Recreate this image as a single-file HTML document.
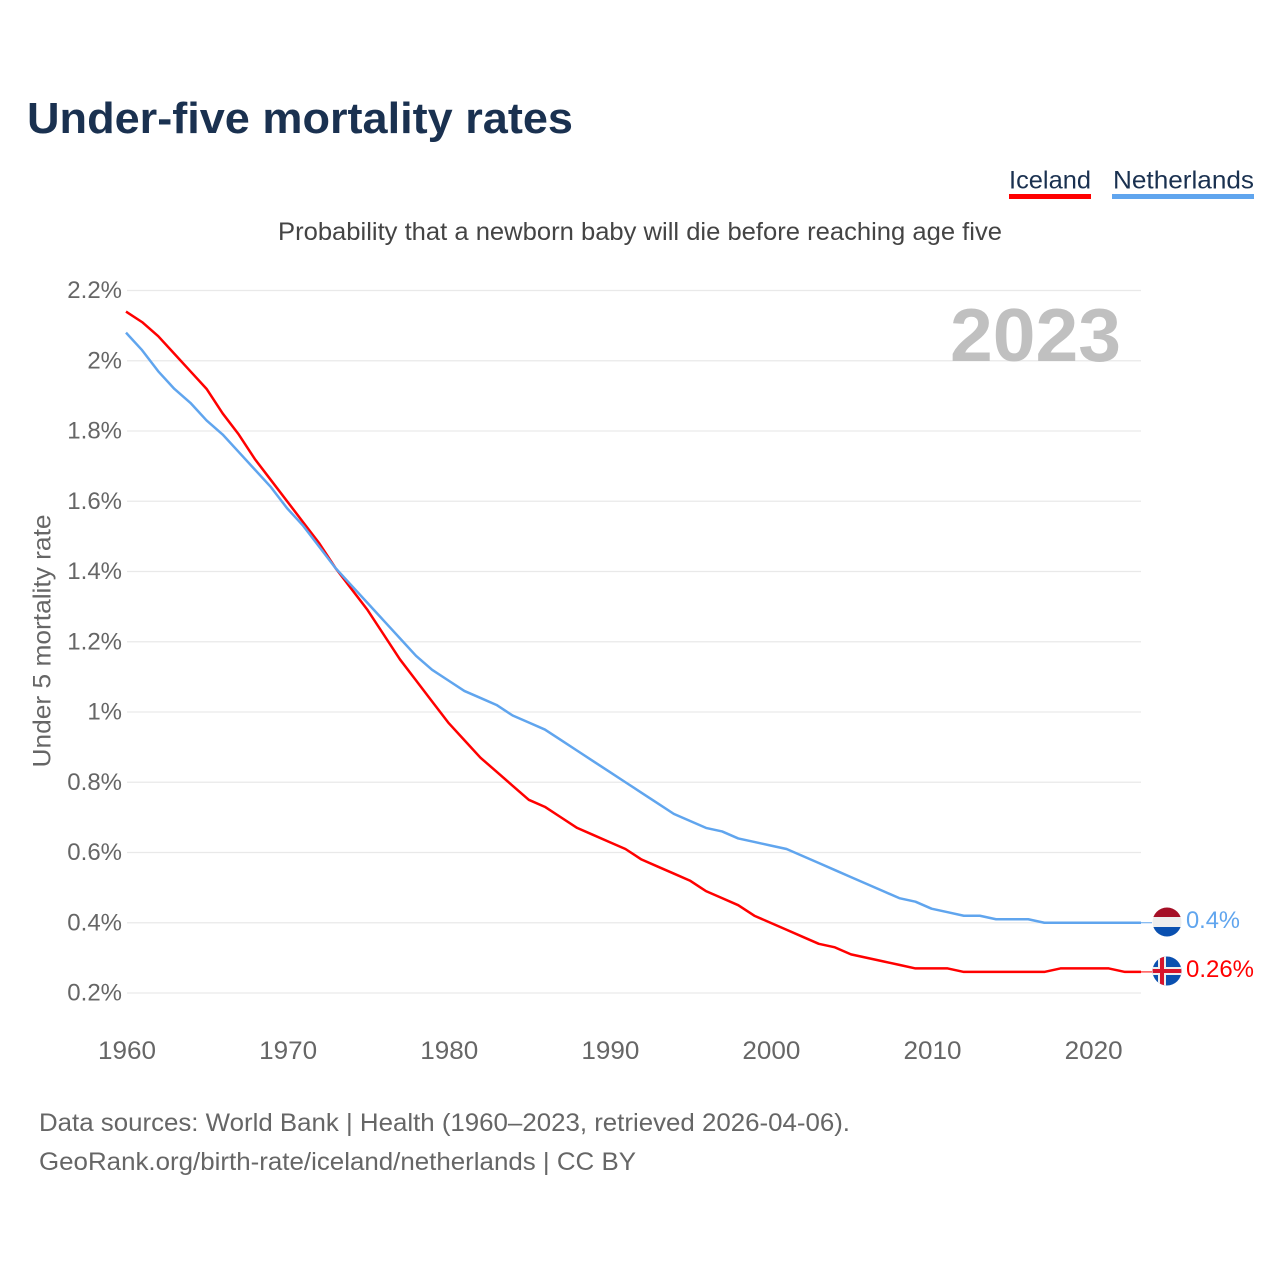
<!DOCTYPE html>
<html lang="en">
<head>
<meta charset="utf-8">
<title>Under-five mortality rates</title>
<style>
html,body{margin:0;padding:0;background:#fff;}
svg{display:block;font-family:"Liberation Sans",sans-serif;}
</style>
</head>
<body>
<svg id="chart" width="1280" height="1280" viewBox="0 0 1280 1280" xmlns="http://www.w3.org/2000/svg">
  <defs>
    <clipPath id="clip-nl"><circle cx="1167" cy="922" r="14.5"/></clipPath>
    <clipPath id="clip-is"><circle cx="1167" cy="971" r="14.5"/></clipPath>
  </defs>
  <rect width="1280" height="1280" fill="#fff"/>
  <text x="27" y="133" font-size="44" font-weight="700" fill="#1a3150" textLength="546" lengthAdjust="spacingAndGlyphs">Under-five mortality rates</text>

  <g>
    <text x="1009" y="188.5" font-size="25" fill="#1a3150" textLength="82" lengthAdjust="spacingAndGlyphs">Iceland</text>
    <rect x="1009" y="194" width="82" height="5" fill="#ff0000"/>
  </g>
  <g>
    <text x="1113" y="188.5" font-size="25" fill="#1a3150" textLength="141" lengthAdjust="spacingAndGlyphs">Netherlands</text>
    <rect x="1112" y="194" width="142" height="5" fill="#60a5ee"/>
  </g>

  <text x="278" y="240" font-size="25" fill="#444" textLength="724" lengthAdjust="spacingAndGlyphs">Probability that a newborn baby will die before reaching age five</text>

  <g id="grid"></g>
  <g id="ylabels"></g>
  <g id="xlabels"></g>

  <text transform="translate(50.5,641) rotate(-90)" text-anchor="middle" font-size="25" fill="#666" textLength="253" lengthAdjust="spacingAndGlyphs">Under 5 mortality rate</text>

  <text x="950" y="361" font-size="75" font-weight="700" fill="#c0c0c0" textLength="171" lengthAdjust="spacingAndGlyphs">2023</text>

  <g id="series"></g>

  <g clip-path="url(#clip-nl)">
    <rect x="1152" y="907" width="30" height="10" fill="#a50f26"/>
    <rect x="1152" y="917" width="30" height="10" fill="#eeeeee"/>
    <rect x="1152" y="927" width="30" height="11" fill="#0a50b0"/>
  </g>
  <g clip-path="url(#clip-is)">
    <rect x="1152" y="956" width="30" height="30" fill="#0a50b0"/>
    <rect x="1158" y="956" width="8" height="30" fill="#eeeeee"/>
    <rect x="1152" y="967" width="30" height="8" fill="#eeeeee"/>
    <rect x="1160" y="956" width="4" height="30" fill="#d7142c"/>
    <rect x="1152" y="969" width="30" height="4" fill="#d7142c"/>
  </g>
  <text x="1186" y="928" font-size="24" fill="#60a5ee" textLength="54" lengthAdjust="spacingAndGlyphs">0.4%</text>
  <text x="1186" y="977" font-size="24" fill="#ff0000" textLength="68" lengthAdjust="spacingAndGlyphs">0.26%</text>

  <text x="39" y="1131" font-size="25" fill="#666" textLength="811" lengthAdjust="spacingAndGlyphs">Data sources: World Bank | Health (1960–2023, retrieved 2026-04-06).</text>
  <text x="39" y="1170" font-size="25" fill="#666" textLength="597" lengthAdjust="spacingAndGlyphs">GeoRank.org/birth-rate/iceland/netherlands | CC BY</text>
</svg>
<script>
const startYear = 1960;
const icelandValues = [2.14,2.11,2.07,2.02,1.97,1.92,1.85,1.79,1.72,1.66,1.60,1.54,1.48,1.41,1.35,1.29,1.22,1.15,1.09,1.03,0.97,0.92,0.87,0.83,0.79,0.75,0.73,0.70,0.67,0.65,0.63,0.61,0.58,0.56,0.54,0.52,0.49,0.47,0.45,0.42,0.40,0.38,0.36,0.34,0.33,0.31,0.30,0.29,0.28,0.27,0.27,0.27,0.26,0.26,0.26,0.26,0.26,0.26,0.27,0.27,0.27,0.27,0.26,0.26];
const netherlandsValues = [2.08,2.03,1.97,1.92,1.88,1.83,1.79,1.74,1.69,1.64,1.58,1.53,1.47,1.41,1.36,1.31,1.26,1.21,1.16,1.12,1.09,1.06,1.04,1.02,0.99,0.97,0.95,0.92,0.89,0.86,0.83,0.80,0.77,0.74,0.71,0.69,0.67,0.66,0.64,0.63,0.62,0.61,0.59,0.57,0.55,0.53,0.51,0.49,0.47,0.46,0.44,0.43,0.42,0.42,0.41,0.41,0.41,0.40,0.40,0.40,0.40,0.40,0.40,0.40];
const yTicks = [2.2,2,1.8,1.6,1.4,1.2,1,0.8,0.6,0.4,0.2];
const xTicks = [1960,1970,1980,1990,2000,2010,2020];

const NS = 'http://www.w3.org/2000/svg';
function xScale(year){ return 126 + (year - 1960) * (1141 - 126) / 63; }
function yScale(v){ return 993 - (v - 0.2) * (993 - 290.5) / 2; }

const grid = document.getElementById('grid');
const ylabels = document.getElementById('ylabels');
const xlabels = document.getElementById('xlabels');
const series = document.getElementById('series');

yTicks.forEach(function(t){
  const line = document.createElementNS(NS, 'line');
  line.setAttribute('x1', 127);
  line.setAttribute('x2', 1141);
  line.setAttribute('y1', yScale(t));
  line.setAttribute('y2', yScale(t));
  line.setAttribute('stroke', '#e9e9e9');
  line.setAttribute('stroke-width', '1.2');
  
  
  grid.appendChild(line);

  const label = document.createElementNS(NS, 'text');
  label.setAttribute('x', 122);
  label.setAttribute('y', yScale(t) + 7.5);
  label.setAttribute('text-anchor', 'end');
  label.setAttribute('font-size', '24');
  label.setAttribute('fill', '#666');
  label.textContent = t + '%';
  
  
  ylabels.appendChild(label);
});

xTicks.forEach(function(t){
  const label = document.createElementNS(NS, 'text');
  label.setAttribute('x', xScale(t) + 1);
  label.setAttribute('y', 1059);
  label.setAttribute('text-anchor', 'middle');
  label.setAttribute('font-size', '25');
  label.setAttribute('fill', '#666');
  label.setAttribute('textLength', '58');
  label.setAttribute('lengthAdjust', 'spacingAndGlyphs');
  label.textContent = t;
  
  
  xlabels.appendChild(label);
});

function pathFor(values){
  return values.map(function(v, i){
    return (i ? 'L' : 'M') + xScale(startYear + i).toFixed(2) + ' ' + yScale(v).toFixed(2);
  }).join(' ');
}

const icelandLine = document.createElementNS(NS, 'path');
icelandLine.setAttribute('d', pathFor(icelandValues));
icelandLine.setAttribute('fill', 'none');
icelandLine.setAttribute('stroke', '#ff0000');
icelandLine.setAttribute('stroke-width', '2.5');
icelandLine.setAttribute('stroke-linejoin', 'round');


series.appendChild(icelandLine);

const netherlandsLine = document.createElementNS(NS, 'path');
netherlandsLine.setAttribute('d', pathFor(netherlandsValues));
netherlandsLine.setAttribute('fill', 'none');
netherlandsLine.setAttribute('stroke', '#60a5ee');
netherlandsLine.setAttribute('stroke-width', '2.5');
netherlandsLine.setAttribute('stroke-linejoin', 'round');


series.appendChild(netherlandsLine);

const lastYear = startYear + icelandValues.length - 1;

const icelandLeader = document.createElementNS(NS, 'line');
icelandLeader.setAttribute('x1', xScale(lastYear));
icelandLeader.setAttribute('x2', 1152);
icelandLeader.setAttribute('y1', yScale(icelandValues[icelandValues.length - 1]));
icelandLeader.setAttribute('y2', yScale(icelandValues[icelandValues.length - 1]));
icelandLeader.setAttribute('stroke', '#ff0000');
icelandLeader.setAttribute('stroke-width', '1');


series.appendChild(icelandLeader);

const netherlandsLeader = document.createElementNS(NS, 'line');
netherlandsLeader.setAttribute('x1', xScale(lastYear));
netherlandsLeader.setAttribute('x2', 1152);
netherlandsLeader.setAttribute('y1', yScale(netherlandsValues[netherlandsValues.length - 1]));
netherlandsLeader.setAttribute('y2', yScale(netherlandsValues[netherlandsValues.length - 1]));
netherlandsLeader.setAttribute('stroke', '#60a5ee');
netherlandsLeader.setAttribute('stroke-width', '1');


series.appendChild(netherlandsLeader);
</script>
</body>
</html>
